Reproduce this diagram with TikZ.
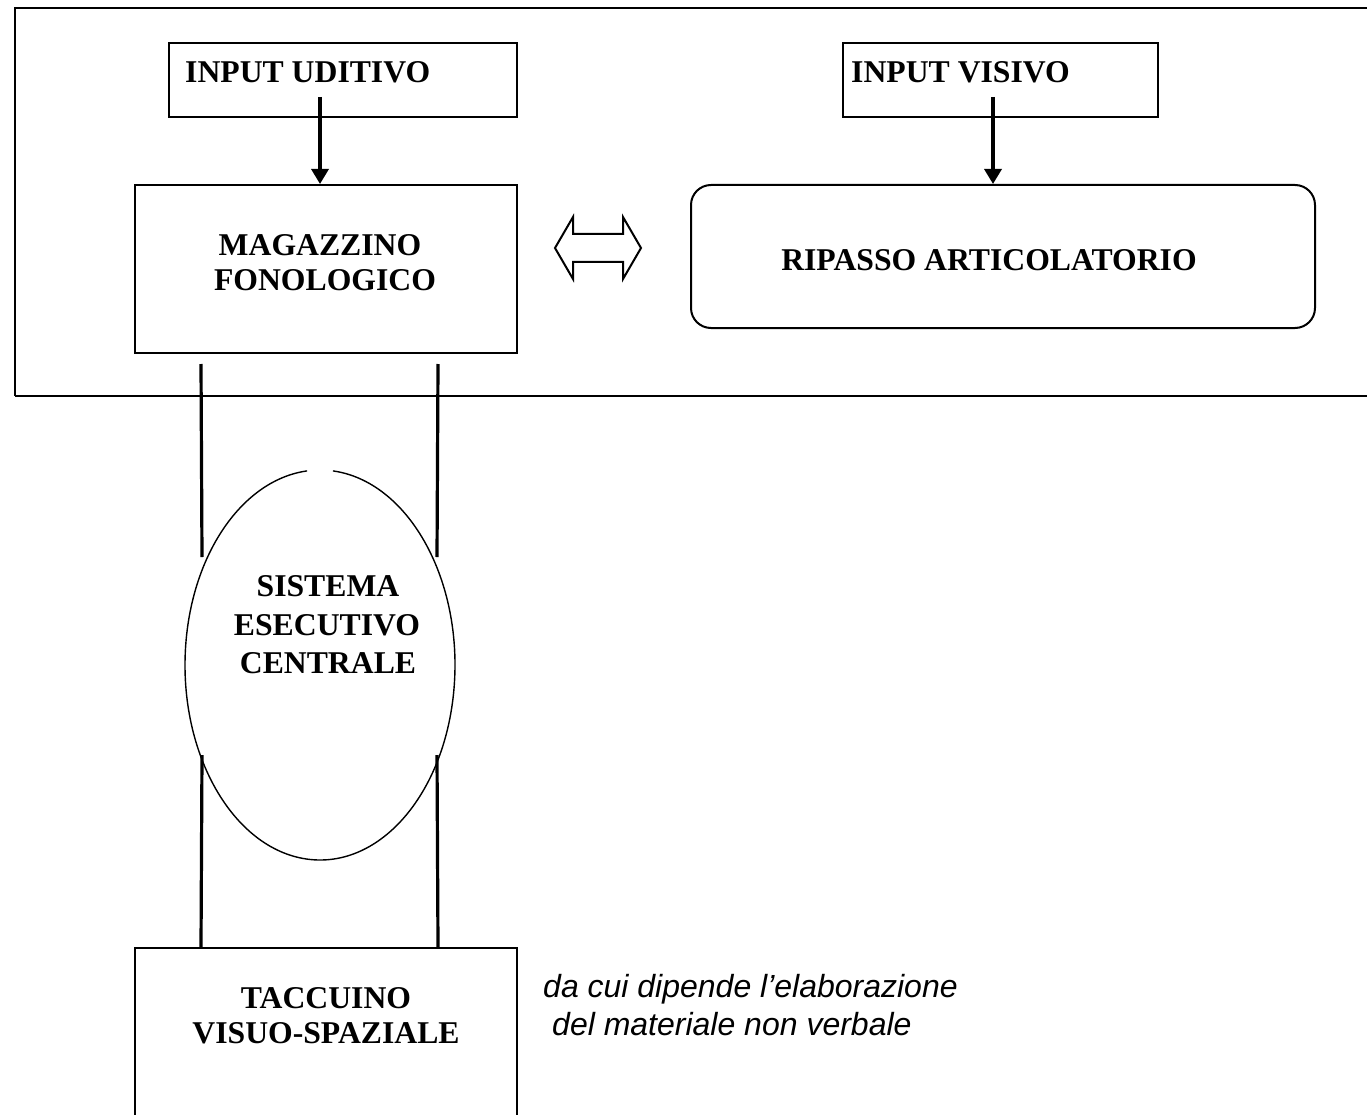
\documentclass[tikz,border=0pt]{standalone}
\usepackage{fontspec}
\setmainfont{Liberation Serif}
\newfontfamily\sansfam{Liberation Sans}
\usetikzlibrary{arrows.meta,calc,shapes.geometric}
\begin{document}
\begin{tikzpicture}[x=1pt,y=-1pt,
 box/.style={draw, line width=2pt, inner sep=0pt, rectangle},
 lbl/.style={font=\fontsize{31.7}{35}\selectfont\bfseries, inner sep=0pt, anchor=base},
 arr/.style={line width=3.4pt, -{Triangle[length=15pt,width=17pt]}},
 link/.style={line width=3.2pt},
 note/.style={font=\fontsize{32}{38}\selectfont\sansfam\itshape, inner sep=0pt, anchor=base west}]
\useasboundingbox (0,0) rectangle (1367,1115);
\begin{scope}
\clip (0,0) rectangle (1367,1115);
% outer frame
\draw[line width=1.8pt] (1390,8) -- (15,8) -- (15,396);
\draw[line width=2.6pt] (15,396) -- (1390,396);
% boxes
\node[box, minimum width=348, minimum height=74] (iu) at (343,80) {};
\node[box, minimum width=315, minimum height=74] (iv) at (1000.5,80) {};
\node[box, minimum width=382, minimum height=168] (mag) at (326,269) {};
\node[box, rounded corners=20pt, minimum width=624, minimum height=143] (rip) at (1003,256.5) {};
\node[box, minimum width=382, minimum height=192] (tac) at (326,1044) {};
\node[ellipse, minimum width=270, minimum height=390, inner sep=0pt] (sec) at (320,665) {};
\draw[line width=1.4pt] (sec.center) ++(275.5:135 and 195)
  arc[start angle=275.5, end angle=624.5, x radius=135, y radius=195];
% texts
\node[lbl, anchor=base west] (iut) at (185,83) {INPUT UDITIVO};
\node[lbl, anchor=base west] (ivt) at (851,83) {INPUT VISIVO};
\node[lbl] (magt1) at (320,255) {MAGAZZINO};
\node[lbl] (magt2) at (325,290) {FONOLOGICO};
\node[lbl] (ript) at (989,270) {RIPASSO ARTICOLATORIO};
\node[lbl] (sect1) at (328,596) {SISTEMA};
\node[lbl] (sect2) at (327,635) {ESECUTIVO};
\node[lbl] (sect3) at (328,673) {CENTRALE};
\node[lbl] (tact1) at (326,1008) {TACCUINO};
\node[lbl] (tact2) at (326,1043) {VISUO-SPAZIALE};
\node[note] (note1) at (543,997) {da cui dipende l’elaborazione};
\node[note] (note2) at (552,1035) {del materiale non verbale};
% arrows
\coordinate (a1) at (320,97);
\coordinate (a2) at (993,97);
\draw[arr] (a1) -- (a1 |- mag.north);
\draw[arr] (a2) -- (a2 |- rip.north);
% double arrow
\coordinate (dac) at (598,248);
\draw[line width=2pt, line join=miter] ($(dac)+(-43,0)$) -- ++(18,-31) -- ++(0,17) -- ++(50,0) -- ++(0,-17) -- ++(18,31) -- ++(-18,31) -- ++(0,-17) -- ++(-50,0) -- ++(0,17) -- cycle;
% links
\coordinate (l1a) at ($(mag.south west)+(67,10)$);
\coordinate (l1b) at ($(sec.center)+(-118,-108)$);
\coordinate (l2a) at ($(mag.south east)+(-80,10)$);
\coordinate (l2b) at ($(sec.center)+(117,-108)$);
\coordinate (l3a) at ($(sec.center)+(-118,90)$);
\coordinate (l3b) at ($(tac.north west)+(67,0)$);
\coordinate (l4a) at ($(sec.center)+(117,90)$);
\coordinate (l4b) at ($(tac.north east)+(-80,0)$);
\draw[link] (l1a) -- (l1b);
\draw[link] (l2a) -- (l2b);
\draw[link] (l3a) -- (l3b);
\draw[link] (l4a) -- (l4b);
\end{scope}
\end{tikzpicture}
\end{document}
